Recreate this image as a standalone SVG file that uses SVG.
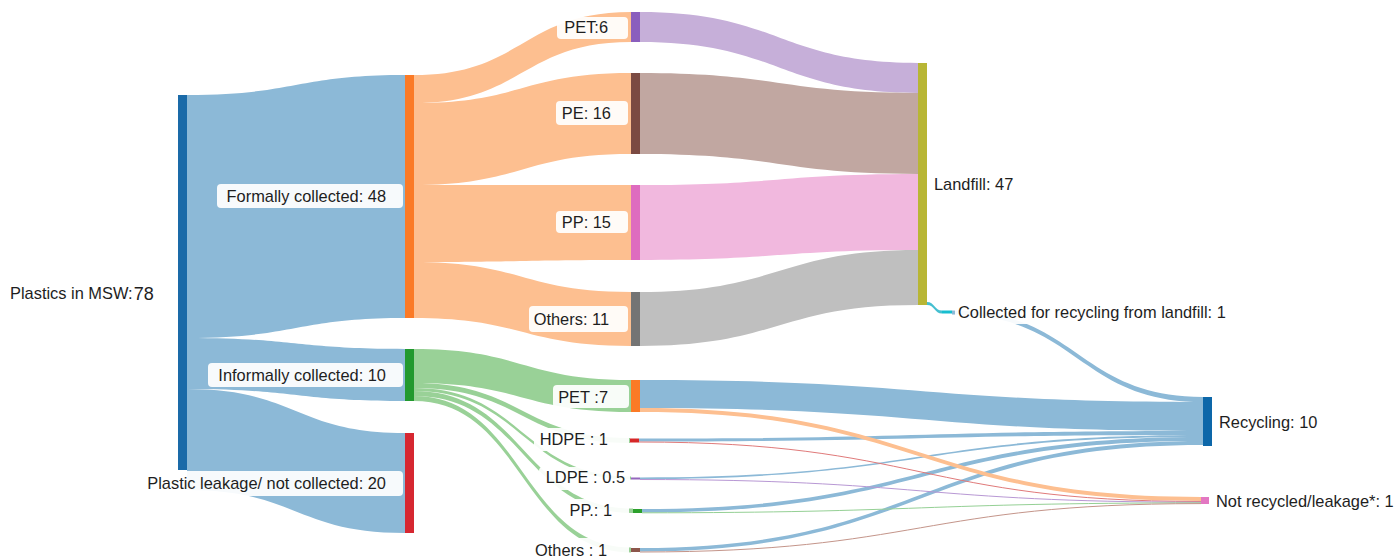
<svg xmlns="http://www.w3.org/2000/svg" width="1396" height="560" viewBox="0 0 1396 560">
<style>
.lbl{font-family:"Liberation Sans",Arial,Helvetica,sans-serif;font-size:16.4px;fill:#1e1e1e}
.end{text-anchor:end}
.box{fill:#ffffff;fill-opacity:0.93}
.lb{fill:#8cb9d7}
.lo{fill:#fdbf90}
.lg{fill:#99d197}
.lpu{fill:#c6afd9}
.lbr{fill:#c1a7a1}
.lpi{fill:#f1b8de}
.lgr{fill:#bfbfbf}
.lc{fill:#45bfd0}
.thin{fill:none;stroke-width:1}
</style>
<rect width="1396" height="560" fill="#ffffff"/>
<g id="connectors">
  <path class="lb" d="M187,95 C296,95 296,75 405,75 L405,318 C296,318 296,338 187,338 Z"/>
  <path class="lb" d="M187,338 C296,338 296,349 405,349 L405,401 C296,401 296,389 187,389 Z"/>
  <path class="lb" d="M187,389 C296,389 296,433 405,433 L405,533 C296,533 296,490 187,490 Z"/>
  <path class="lo" d="M414,75 C522.5,75 522.5,12 631,12 L631,42 C522.5,42 522.5,103 414,103 Z"/>
  <path class="lo" d="M414,103 C522.5,103 522.5,73 631,73 L631,154 C522.5,154 522.5,185 414,185 Z"/>
  <path class="lo" d="M414,185 C522.5,185 522.5,185 631,185 L631,260 C522.5,260 522.5,262 414,262 Z"/>
  <path class="lo" d="M414,262 C522.5,262 522.5,292 631,292 L631,346 C522.5,346 522.5,318 414,318 Z"/>
  <path class="lpu" d="M640,12 C779,12 779,63 918,63 L918,93 C779,93 779,42 640,42 Z"/>
  <path class="lbr" d="M640,73 C779,73 779,93 918,93 L918,174 C779,174 779,154 640,154 Z"/>
  <path class="lpi" d="M640,185 C779,185 779,174 918,174 L918,250 C779,250 779,260 640,260 Z"/>
  <path class="lgr" d="M640,292 C779,292 779,250 918,250 L918,305 C779,305 779,346 640,346 Z"/>
  <path class="lc" d="M927,302 C934.5,302 934.5,310.5 942,310.5 L942,313.5 C934.5,313.5 934.5,305 927,305 Z"/>
  <path class="lg" d="M414,349 C522.5,349 522.5,380 631,380 L631,412 C522.5,412 522.5,383 414,383 Z"/>
  <path class="lg" d="M414,383 C522,383 522,438 630,438 L630,443 C522,443 522,388 414,388 Z"/>
  <path class="lg" d="M414,388 C522.5,388 522.5,476.5 631,476.5 L631,479.5 C522.5,479.5 522.5,391 414,391 Z"/>
  <path class="lg" d="M414,391 C523.5,391 523.5,508.5 633,508.5 L633,513 C523.5,513 523.5,396 414,396 Z"/>
  <path class="lg" d="M414,396 C522.5,396 522.5,547.5 631,547.5 L631,552.5 C522.5,552.5 522.5,401 414,401 Z"/>
  <path class="lb" d="M952,310.5 C1077.5,310.5 1077.5,397 1203,397 L1203,402 C1077.5,402 1077.5,314.5 952,314.5 Z"/>
  <path class="lb" d="M640,380 C921.5,380 921.5,402 1203,402 L1203,431 C921.5,431 921.5,408 640,408 Z"/>
  <path class="lb" d="M639,438.5 C921,438.5 921,431 1203,431 L1203,435 C921,435 921,441.5 639,441.5 Z"/>
  <path class="lb" d="M640,477.5 C921.5,477.5 921.5,435 1203,435 L1203,437 C921.5,437 921.5,479 640,479 Z"/>
  <path class="lb" d="M642,509 C922.5,509 922.5,437 1203,437 L1203,441 C922.5,441 922.5,512.5 642,512.5 Z"/>
  <path class="lb" d="M640,548 C921.5,548 921.5,441 1203,441 L1203,445 C921.5,445 921.5,551.5 640,551.5 Z"/>
  <path class="lo" d="M640,408 C920.5,408 920.5,497 1201,497 L1201,501 C920.5,501 920.5,412 640,412 Z"/>
  <path class="thin" stroke="#e07a7a" d="M639,442 C920,442 920,501.5 1201,501.5"/>
  <path class="thin" stroke="#b898d4" d="M640,479.5 C920.5,479.5 920.5,502.2 1201,502.2"/>
  <path class="thin" stroke="#95d095" d="M642,512.8 C921.5,512.8 921.5,502.9 1201,502.9"/>
  <path class="thin" stroke="#c4958a" d="M640,552 C920.5,552 920.5,503.6 1201,503.6"/>
</g>
<g id="node-msw">
  <rect x="178" y="95" width="9" height="375" fill="#1a6aa8"/>
  <text class="lbl" x="10" y="299">Plastics in MSW:<tspan font-size="18" dx="1" dy="1">78</tspan></text>
</g>
<g id="node-formal">
  <rect x="405" y="75" width="9" height="243" fill="#fb7a26"/>
  <rect class="box" x="217" y="184" width="186" height="24" rx="4"/>
  <text class="lbl end" x="386" y="202">Formally collected: 48</text>
</g>
<g id="node-informal">
  <rect x="405" y="349" width="9" height="52" fill="#22992f"/>
  <rect class="box" x="208" y="363" width="195" height="24" rx="4"/>
  <text class="lbl end" x="386" y="381">Informally collected: 10</text>
</g>
<g id="node-leakage">
  <rect x="405" y="433" width="9" height="100" fill="#d62731"/>
  <rect class="box" x="142" y="471" width="261" height="25" rx="4"/>
  <text class="lbl end" x="386" y="489">Plastic leakage/ not collected: 20</text>
</g>
<g id="node-pet6">
  <rect x="631" y="12" width="9" height="30" fill="#8a5ebd"/>
  <rect class="box" x="557" y="17" width="71" height="22" rx="4"/>
  <text class="lbl end" x="608" y="33">PET:6</text>
</g>
<g id="node-pe16">
  <rect x="631" y="73" width="9" height="81" fill="#7b4a42"/>
  <rect class="box" x="556" y="101" width="72" height="24" rx="4"/>
  <text class="lbl end" x="611" y="119">PE: 16</text>
</g>
<g id="node-pp15">
  <rect x="631" y="185" width="9" height="75" fill="#de6cbf"/>
  <rect class="box" x="556" y="211" width="72" height="22" rx="4"/>
  <text class="lbl end" x="611" y="228">PP: 15</text>
</g>
<g id="node-others11">
  <rect x="631" y="292" width="9" height="54" fill="#747474"/>
  <rect class="box" x="529" y="306" width="99" height="26" rx="4"/>
  <text class="lbl end" x="609" y="325">Others: 11</text>
</g>
<g id="node-landfill">
  <rect x="918" y="63" width="9" height="242" fill="#b8b635"/>
  <text class="lbl" x="934" y="190">Landfill: 47</text>
</g>
<g id="node-collected">
  <rect x="942" y="310.5" width="10" height="3" fill="#17becf"/>
  <rect class="box" x="955" y="301" width="278" height="23" rx="4"/>
  <text class="lbl" x="958" y="318">Collected for recycling from landfill: 1</text>
</g>
<g id="node-pet7">
  <rect x="631" y="380" width="9" height="32" fill="#fb7a26"/>
  <rect class="box" x="553" y="385" width="76" height="23" rx="4"/>
  <text class="lbl end" x="608" y="403">PET :7</text>
</g>
<g id="node-hdpe">
  <rect x="630" y="438.5" width="9" height="4" fill="#d62728"/>
  <rect class="box" x="534" y="428" width="95" height="23" rx="4"/>
  <text class="lbl end" x="608" y="445">HDPE : 1</text>
</g>
<g id="node-ldpe">
  <rect x="631" y="477.5" width="9" height="2" fill="#9467bd"/>
  <rect class="box" x="539" y="467" width="91" height="23" rx="4"/>
  <text class="lbl end" x="625" y="483">LDPE : 0.5</text>
</g>
<g id="node-pp1">
  <rect x="633" y="509" width="9" height="4" fill="#2ca02c"/>
  <rect class="box" x="563" y="499" width="66" height="23" rx="4"/>
  <text class="lbl end" x="612" y="516">PP.: 1</text>
</g>
<g id="node-others1">
  <rect x="631" y="548" width="9" height="4" fill="#8c564b"/>
  <rect class="box" x="530" y="538" width="99" height="22" rx="4"/>
  <text class="lbl end" x="607" y="556">Others : 1</text>
</g>
<g id="node-recycling">
  <rect x="1203" y="397" width="9" height="49" fill="#0d67a9"/>
  <text class="lbl" x="1219" y="428">Recycling: 10</text>
</g>
<g id="node-notrecycled">
  <rect x="1201" y="497" width="8" height="7" fill="#e377c2"/>
  <text class="lbl" x="1216" y="507">Not recycled/leakage*: 1</text>
</g>
</svg>
